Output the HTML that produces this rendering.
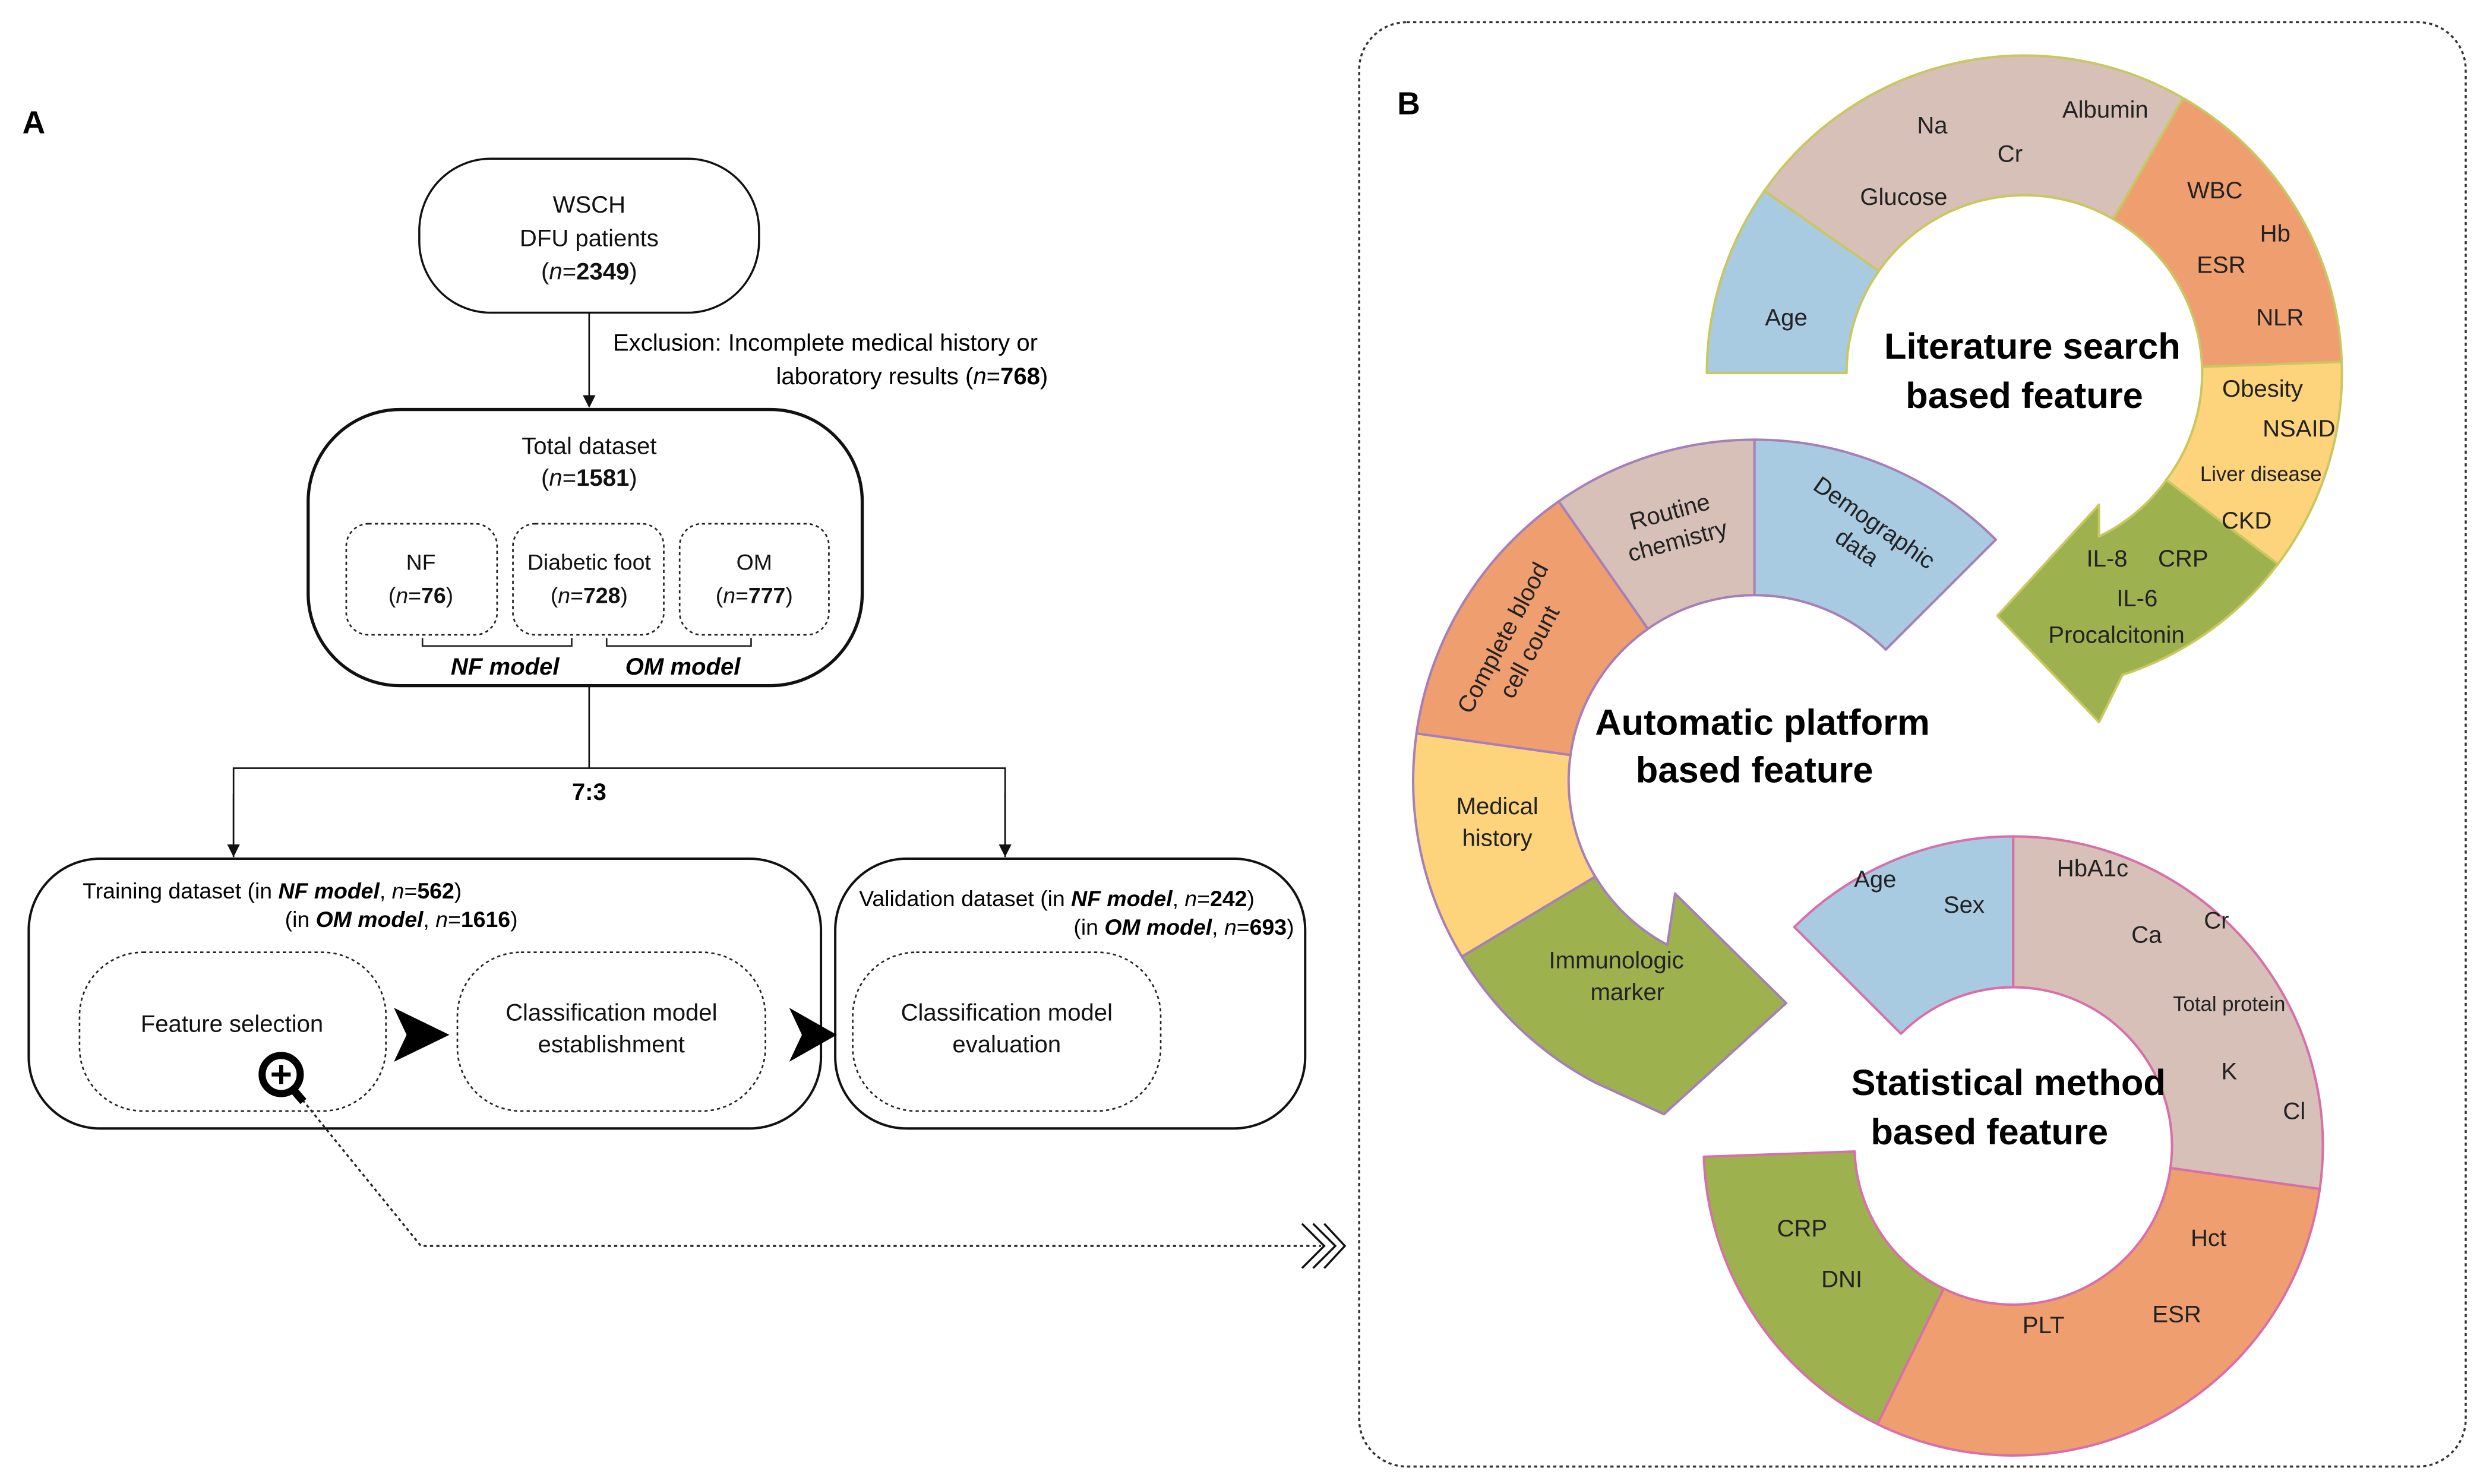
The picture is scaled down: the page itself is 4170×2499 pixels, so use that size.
<!DOCTYPE html>
<html><head><meta charset="utf-8">
<style>html,body{margin:0;padding:0;background:#fff}svg{display:block}text{font-family:"Liberation Sans",Arial,sans-serif}</style>
</head><body>
<svg id="s" width="4170" height="2499" viewBox="0 0 1560 935" xmlns="http://www.w3.org/2000/svg">
<defs>
<marker id="ah" markerWidth="8" markerHeight="8" refX="7" refY="4" orient="auto" markerUnits="userSpaceOnUse"><path d="M0,0 L8,4 L0,8 Z" fill="#111"/></marker>
</defs>
<rect width="1560" height="935" fill="#fff"/>
<!-- Panel A -->
<text x="14" y="84" font-size="20" font-weight="bold">A</text>
<rect x="264" y="100" width="214" height="97" rx="45" fill="none" stroke="#111" stroke-width="1.3"/>
<g font-size="15" text-anchor="middle" fill="#111">
<text x="371" y="134">WSCH</text>
<text x="371" y="155">DFU patients</text>
<text x="371" y="176">(<tspan font-style="italic">n</tspan>=<tspan font-weight="bold">2349</tspan>)</text>
</g>
<line x1="371" y1="197" x2="371" y2="256" stroke="#111" stroke-width="1" marker-end="url(#ah)"/>
<text x="386" y="221" font-size="15">Exclusion: Incomplete medical history or</text>
<text x="660" y="242" font-size="15" text-anchor="end">laboratory results (<tspan font-style="italic">n</tspan>=<tspan font-weight="bold">768</tspan>)</text>
<rect x="194" y="258" width="349" height="174" rx="58" fill="none" stroke="#111" stroke-width="2"/>
<g font-size="15" text-anchor="middle" fill="#111">
<text x="371" y="286">Total dataset</text>
<text x="371" y="306">(<tspan font-style="italic">n</tspan>=<tspan font-weight="bold">1581</tspan>)</text>
</g>
<g fill="none" stroke="#222" stroke-width="1" stroke-dasharray="2 2">
<rect x="218" y="330" width="95" height="70" rx="14"/>
<rect x="323" y="330" width="95" height="70" rx="14"/>
<rect x="428" y="330" width="94" height="70" rx="14"/>
</g>
<g font-size="14" text-anchor="middle" fill="#111">
<text x="265" y="359">NF</text><text x="265" y="380">(<tspan font-style="italic">n</tspan>=<tspan font-weight="bold">76</tspan>)</text>
<text x="371" y="359">Diabetic foot</text><text x="371" y="380">(<tspan font-style="italic">n</tspan>=<tspan font-weight="bold">728</tspan>)</text>
<text x="475" y="359">OM</text><text x="475" y="380">(<tspan font-style="italic">n</tspan>=<tspan font-weight="bold">777</tspan>)</text>
</g>
<path d="M266,402 V407 H360 V402 M382,402 V407 H473 V402" fill="none" stroke="#222" stroke-width="1"/>
<text x="318" y="425" font-size="15" font-weight="bold" font-style="italic" text-anchor="middle">NF model</text>
<text x="430" y="425" font-size="15" font-weight="bold" font-style="italic" text-anchor="middle">OM model</text>
<line x1="371" y1="432" x2="371" y2="484" stroke="#111"/>
<path d="M147,540 V484 H633 V540" fill="none" stroke="#111"/>
<line x1="147" y1="500" x2="147" y2="539" stroke="#111" marker-end="url(#ah)"/>
<line x1="633" y1="500" x2="633" y2="539" stroke="#111" marker-end="url(#ah)"/>
<text x="371" y="504" font-size="15" font-weight="bold" text-anchor="middle">7:3</text>
<rect x="18" y="541" width="499" height="170" rx="45" fill="none" stroke="#111" stroke-width="1.5"/>
<rect x="526" y="541" width="296" height="170" rx="45" fill="none" stroke="#111" stroke-width="1.5"/>
<text x="52" y="566" font-size="14">Training dataset (in <tspan font-weight="bold" font-style="italic">NF model</tspan>, <tspan font-style="italic">n</tspan>=<tspan font-weight="bold">562</tspan>)</text>
<text x="326" y="584" font-size="14" text-anchor="end">(in <tspan font-weight="bold" font-style="italic">OM model</tspan>, <tspan font-style="italic">n</tspan>=<tspan font-weight="bold">1616</tspan>)</text>
<text x="541" y="571" font-size="14">Validation dataset (in <tspan font-weight="bold" font-style="italic">NF model</tspan>, <tspan font-style="italic">n</tspan>=<tspan font-weight="bold">242</tspan>)</text>
<text x="815" y="589" font-size="14" text-anchor="end">(in <tspan font-weight="bold" font-style="italic">OM model</tspan>, <tspan font-style="italic">n</tspan>=<tspan font-weight="bold">693</tspan>)</text>
<g fill="none" stroke="#222" stroke-width="1" stroke-dasharray="2 2">
<rect x="50" y="600" width="193" height="100" rx="40"/>
<rect x="288" y="600" width="194" height="100" rx="40"/>
<rect x="537" y="600" width="194" height="100" rx="40"/>
</g>
<g font-size="15" text-anchor="middle" fill="#111">
<text x="146" y="650">Feature selection</text>
<text x="385" y="643">Classification model</text><text x="385" y="663">establishment</text>
<text x="634" y="643">Classification model</text><text x="634" y="663">evaluation</text>
</g>
<path d="M248,635 L283,652 L248,669 L256,652 Z" fill="#000"/>
<path d="M497,635 L527,652 L497,669 L505,652 Z" fill="#000"/>
<path d="M188,690 L265,785 H832" fill="none" stroke="#222" stroke-width="1.2" stroke-dasharray="2 2"/>
<circle cx="177" cy="677" r="12" fill="#fff" stroke="#000" stroke-width="4.5"/>
<path d="M171,677 H183 M177,671 V683" stroke="#000" stroke-width="2.5"/>
<line x1="185" y1="687" x2="191" y2="694" stroke="#000" stroke-width="5"/>
<path d="M820,771 L834,785 L820,799 M827,771 L841,785 L827,799 M834,771 L847,785 L834,799" fill="none" stroke="#111" stroke-width="1.3"/>

<!-- Panel B -->
<rect x="856" y="14" width="697" height="910" rx="30" fill="none" stroke="#333" stroke-width="1.3" stroke-dasharray="2 2"/>
<text x="880" y="72" font-size="20" font-weight="bold">B</text>
<g id="rings"></g>

<g font-size="15" text-anchor="middle" fill="#222">
<text x="1217" y="84">Na</text><text x="1266" y="102">Cr</text><text x="1326" y="74">Albumin</text>
<text x="1199" y="129">Glucose</text><text x="1395" y="125">WBC</text><text x="1433" y="152">Hb</text>
<text x="1399" y="172">ESR</text><text x="1436" y="205">NLR</text><text x="1125" y="205">Age</text>
<text x="1425" y="250">Obesity</text><text x="1448" y="275">NSAID</text>
<text x="1424" y="303" font-size="13">Liver disease</text><text x="1415" y="333">CKD</text>
<text x="1327" y="357">IL-8</text><text x="1375" y="357">CRP</text><text x="1346" y="382">IL-6</text><text x="1333" y="405">Procalcitonin</text>

<text transform="translate(1055,335) rotate(-15)"><tspan x="0" y="-8">Routine</tspan><tspan x="0" y="11">chemistry</tspan></text>
<text transform="translate(1173,340) rotate(35)"><tspan x="0" y="-8">Demographic</tspan><tspan x="0" y="11">data</tspan></text>
<text transform="translate(958,408) rotate(-62)"><tspan x="0" y="-8">Complete blood</tspan><tspan x="0" y="11">cell count</tspan></text>
<text x="943" y="513">Medical</text><text x="943" y="533">history</text>
<text x="1018" y="610">Immunologic</text><text x="1025" y="630">marker</text>

<text x="1181" y="559">Age</text><text x="1237" y="575">Sex</text><text x="1318" y="552">HbA1c</text>
<text x="1352" y="594">Ca</text><text x="1396" y="585">Cr</text><text x="1404" y="637" font-size="13">Total protein</text>
<text x="1404" y="680">K</text><text x="1445" y="705">Cl</text><text x="1391" y="785">Hct</text>
<text x="1371" y="833">ESR</text><text x="1287" y="840">PLT</text><text x="1135" y="779">CRP</text><text x="1160" y="811">DNI</text>
</g>
<g font-size="23" font-weight="bold" text-anchor="middle" fill="#000">
<text x="1280" y="226">Literature search</text><text x="1275" y="257">based feature</text>
<text x="1110" y="463">Automatic platform</text><text x="1105" y="493">based feature</text>
<text x="1265" y="690">Statistical method</text><text x="1253" y="721">based feature</text>
</g>
</svg>
<script>
(function(){
var g=document.getElementById('rings');var NS='http://www.w3.org/2000/svg';
function P(cx,cy,r,a){a=a*Math.PI/180;return [cx+r*Math.cos(a),cy+r*Math.sin(a)];}
function f(p){return p[0].toFixed(1)+','+p[1].toFixed(1);}
function seg(cx,cy,R,r,a1,a2){var L=(a2-a1)>180?1:0;
return 'M'+f(P(cx,cy,R,a1))+' A'+R+','+R+' 0 '+L+' 1 '+f(P(cx,cy,R,a2))+' L'+f(P(cx,cy,r,a2))+' A'+r+','+r+' 0 '+L+' 0 '+f(P(cx,cy,r,a1))+' Z';}
function add(d,fill,stroke){var p=document.createElementNS(NS,'path');p.setAttribute('d',d);p.setAttribute('fill',fill);p.setAttribute('stroke',stroke);p.setAttribute('stroke-width','1.5');p.setAttribute('stroke-linejoin','round');g.insertBefore(p,g.firstChild);}
var B='#a9cbe1',BE='#d6c0b8',O='#ef9e70',Y='#fdd37b',G='#9db14f';
var R1=200,r1=112,s1='#c9c760';
add(seg(1275,235,R1,r1,180,215),B,s1);
add(seg(1275,235,R1,r1,215,300),BE,s1);
add(seg(1275,235,R1,r1,300,358),O,s1);
add(seg(1275,235,R1,r1,358,397),Y,s1);
add('M'+f(P(1275,235,R1,37))+' A200,200 0 0 1 '+f(P(1275,235,R1,72))+' L1322,455 L1258,388 L1322,318 L1322,338 A112,112 0 0 0 '+f(P(1275,235,r1,37))+' Z',G,s1);
var s2='#a77fb8',R2=215,r2=117;
add(seg(1105,492,R2,r2,270,315),B,s2);
add(seg(1105,492,R2,r2,235,270),BE,s2);
add(seg(1105,492,R2,r2,188,235),O,s2);
add(seg(1105,492,R2,r2,149,188),Y,s2);
add('M'+f(P(1105,492,R2,149))+' A215,215 0 0 0 '+f(P(1105,492,R2,118))+' L1048,702 L1125,632 L1055,563 L'+f(P(1105,492,r2,118))+' A117,117 0 0 1 '+f(P(1105,492,r2,149))+' Z',G,s2);
var s3='#d86fa8',R3=195,r3=100;
add(seg(1268,722,R3,r3,270,368),BE,s3);
add(seg(1268,722,R3,r3,8,116),O,s3);
add(seg(1268,722,R3,r3,116,178),G,s3);
add(seg(1268,722,R3,r3,225,270),B,s3);
})();
</script>
</body></html>
